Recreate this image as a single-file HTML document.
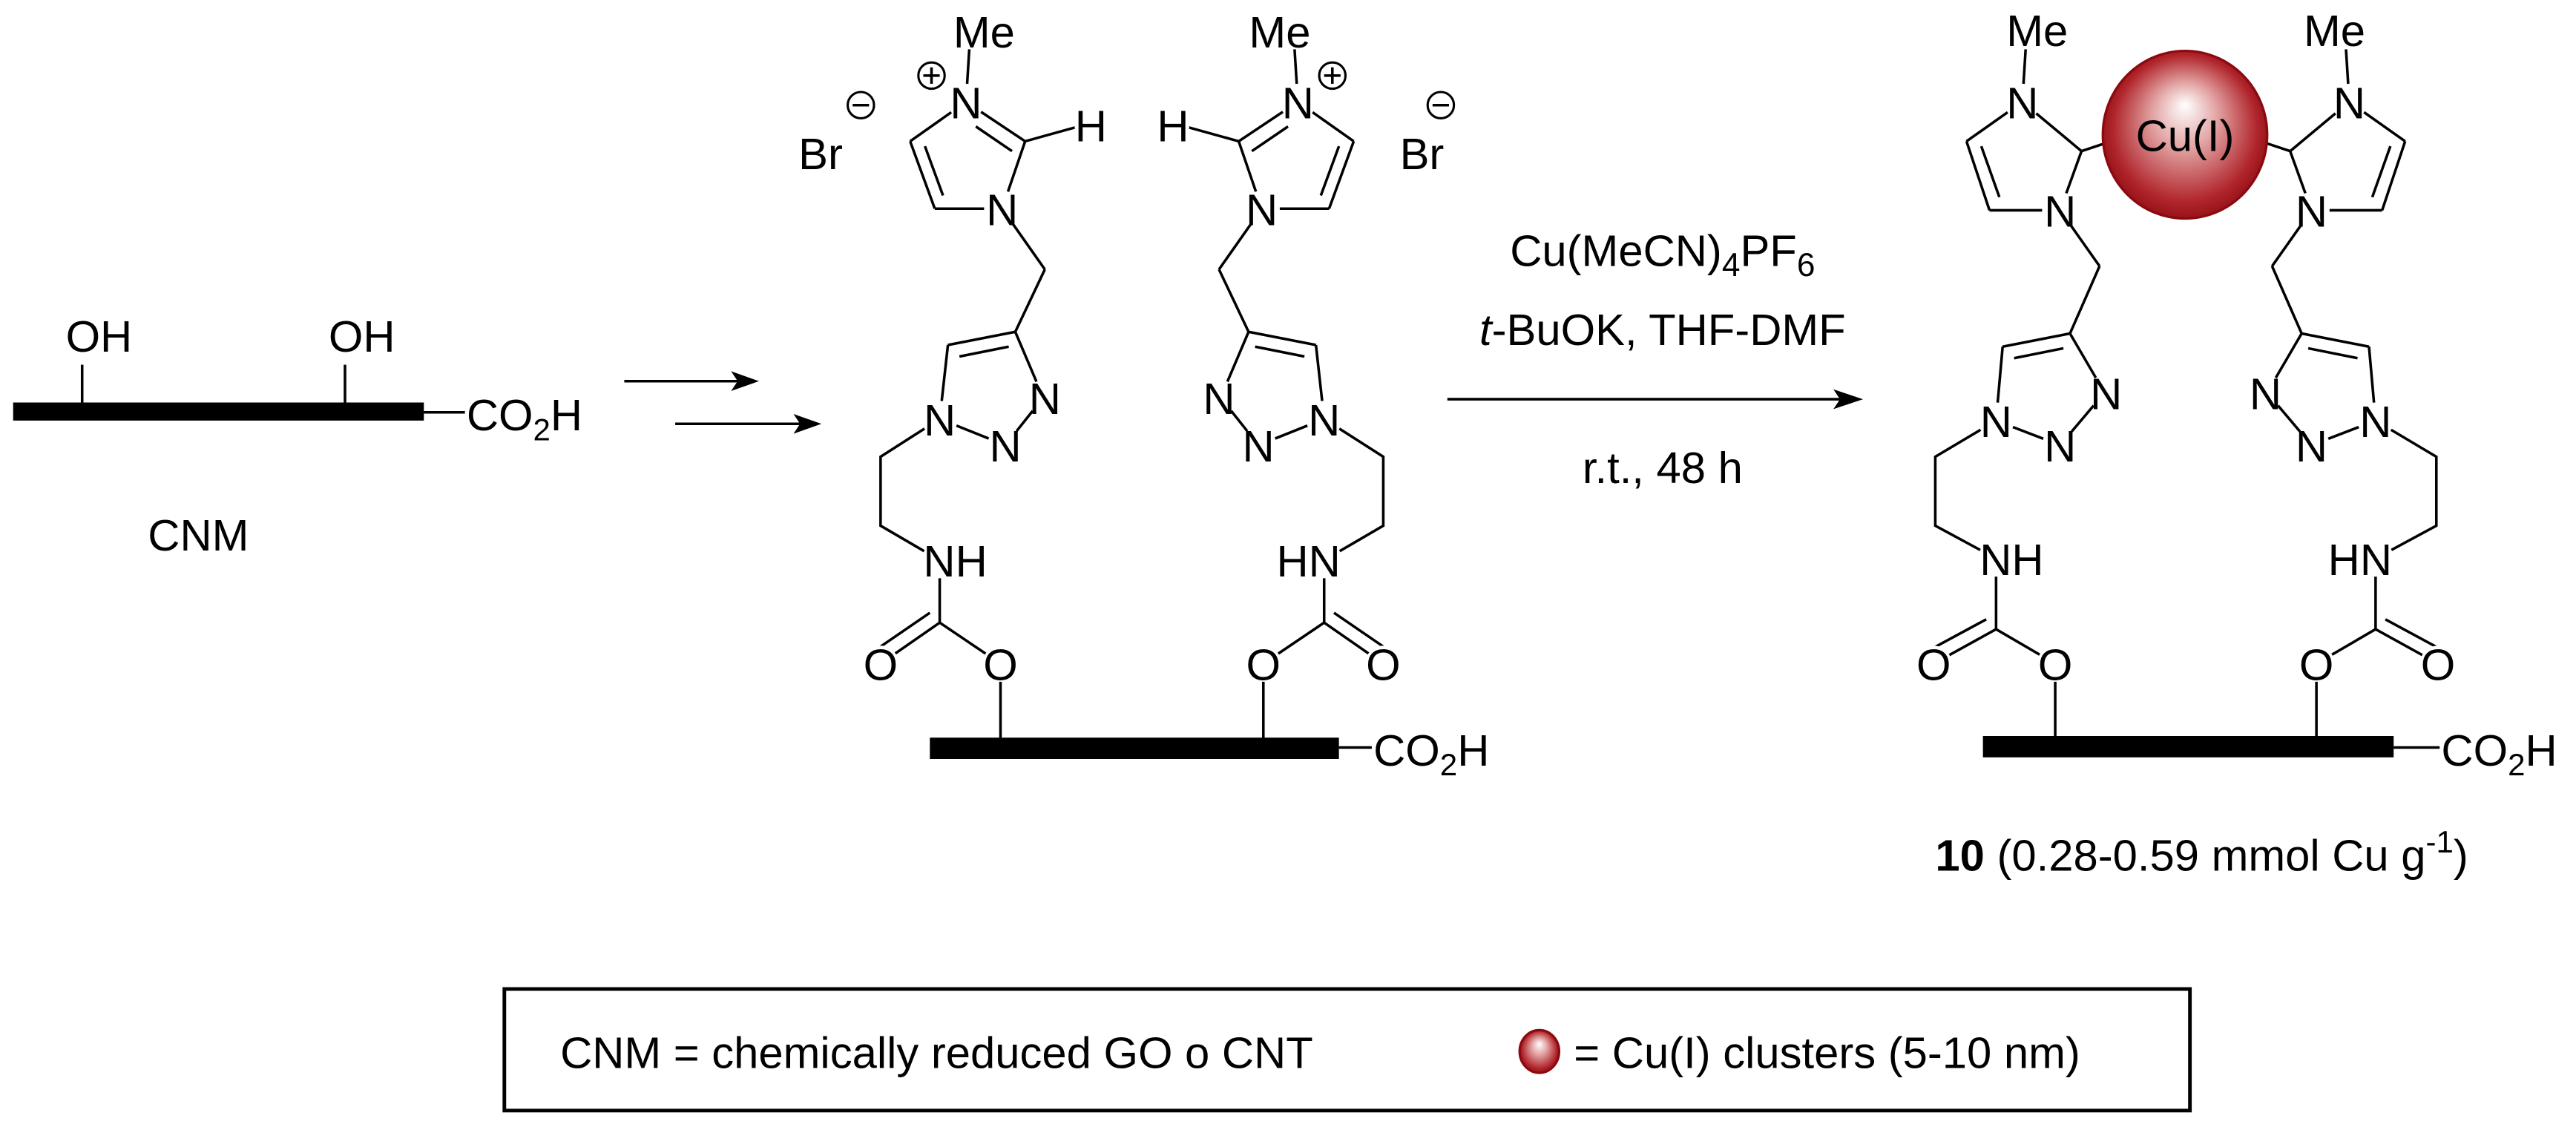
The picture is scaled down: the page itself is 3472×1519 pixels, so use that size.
<!DOCTYPE html>
<html><head><meta charset="utf-8"><style>
html,body{margin:0;padding:0;background:#fff;}
svg{display:block;}
text{font-family:"Liberation Sans",Arial,sans-serif;font-size:27px;fill:#000;}
line,polyline{stroke:#000;stroke-width:1.6;fill:none;}
.w circle{fill:#fff;stroke:none;}
</style></head><body>
<svg width="3472" height="1519" viewBox="0 0 1568 686" xmlns="http://www.w3.org/2000/svg">
<defs>
<radialGradient id="cu" cx="50%" cy="50%" r="55%" fx="50%" fy="32%">
<stop offset="0" stop-color="#ffffff"/>
<stop offset="0.35" stop-color="#e3a5a5"/>
<stop offset="0.8" stop-color="#b0252b"/>
<stop offset="1" stop-color="#8a0a10"/>
</radialGradient>
<g id="pend">
<line x1="588" y1="62" x2="590" y2="30"/>
<line x1="588" y1="62" x2="624" y2="86"/>
<line x1="594" y1="77" x2="616" y2="92"/>
<line x1="624" y1="86" x2="610" y2="127"/>
<line x1="610" y1="127" x2="569" y2="127"/>
<line x1="569" y1="127" x2="554" y2="86"/>
<line x1="574" y1="119" x2="563" y2="89"/>
<line x1="554" y1="86" x2="588" y2="62"/>
<line x1="624" y1="86" x2="660" y2="76"/>
<line x1="610" y1="127" x2="636" y2="164"/>
<line x1="636" y1="164" x2="618" y2="202"/>
<line x1="618" y1="202" x2="577" y2="210"/>
<line x1="614" y1="211" x2="584" y2="217"/>
<line x1="577" y1="210" x2="572" y2="255"/>
<line x1="572" y1="255" x2="612" y2="271"/>
<line x1="612" y1="271" x2="635" y2="242"/>
<line x1="635" y1="242" x2="618" y2="202"/>
<polyline points="572,255 536,278 536,320 572,341"/>
<line x1="572" y1="341" x2="572" y2="379"/>
<line x1="572" y1="379" x2="536" y2="404"/>
<line x1="566" y1="373" x2="531" y2="397"/>
<line x1="572" y1="379" x2="609" y2="404"/>
<line x1="609" y1="404" x2="609" y2="450"/>
</g>
<g id="prod">
<line x1="1231" y1="62" x2="1233" y2="30"/>
<line x1="1231" y1="62" x2="1267" y2="92"/>
<line x1="1267" y1="92" x2="1254" y2="128"/>
<line x1="1254" y1="128" x2="1211" y2="128"/>
<line x1="1211" y1="128" x2="1197" y2="86"/>
<line x1="1217" y1="120" x2="1206" y2="89"/>
<line x1="1197" y1="86" x2="1231" y2="62"/>
<line x1="1267" y1="92" x2="1285" y2="86"/>
<line x1="1254" y1="128" x2="1278" y2="162"/>
<line x1="1278" y1="162" x2="1260" y2="203"/>
<line x1="1260" y1="203" x2="1219" y2="211"/>
<line x1="1256" y1="212" x2="1226" y2="218"/>
<line x1="1219" y1="211" x2="1215" y2="256"/>
<line x1="1215" y1="256" x2="1254" y2="271"/>
<line x1="1254" y1="271" x2="1281" y2="239"/>
<line x1="1281" y1="239" x2="1260" y2="203"/>
<polyline points="1215,256 1178,278 1178,320 1215,340"/>
<line x1="1215" y1="340" x2="1215" y2="383"/>
<line x1="1215" y1="383" x2="1177" y2="404"/>
<line x1="1209" y1="377" x2="1172" y2="397"/>
<line x1="1215" y1="383" x2="1251" y2="404"/>
<line x1="1251" y1="404" x2="1251" y2="449"/>
</g>
</defs>

<!-- left CNM -->
<rect x="8" y="245" width="250" height="11" fill="#000"/>
<line x1="50" y1="222" x2="50" y2="246"/>
<line x1="210" y1="222" x2="210" y2="246"/>
<line x1="258" y1="251" x2="283" y2="251"/>
<text x="40" y="214">OH</text>
<text x="200" y="214">OH</text>
<text x="284" y="262">CO<tspan font-size="19" dy="6">2</tspan><tspan dy="-6">H</tspan></text>
<text x="90" y="335">CNM</text>

<line x1="380" y1="232" x2="450" y2="232" stroke-width="2"/>
<polygon points="462,232 445,226 449,232 445,238" fill="#000"/>
<line x1="411" y1="258" x2="488" y2="258" stroke-width="2"/>
<polygon points="500,258 483,252 487,258 483,264" fill="#000"/>

<!-- middle structure -->
<use href="#pend"/>
<use href="#pend" transform="translate(1378,0) scale(-1,1)"/>
<rect x="566" y="449" width="249" height="13" fill="#000"/>
<line x1="815" y1="455" x2="835" y2="455"/>
<text x="836" y="466">CO<tspan font-size="19" dy="6">2</tspan><tspan dy="-6">H</tspan></text>
<g class="w">
<circle cx="599" cy="19" r="13"/>
<circle cx="588" cy="62" r="11"/><circle cx="664" cy="76" r="10"/><circle cx="610" cy="127" r="11"/>
<circle cx="572" cy="255" r="11"/><circle cx="612" cy="271" r="11"/><circle cx="636" cy="242" r="11"/>
<circle cx="572" cy="341" r="11"/><circle cx="536" cy="404" r="11"/><circle cx="609" cy="404" r="11"/>
<circle cx="779" cy="19" r="13"/>
<circle cx="790" cy="62" r="11"/><circle cx="714" cy="76" r="10"/><circle cx="768" cy="127" r="11"/>
<circle cx="806" cy="255" r="11"/><circle cx="766" cy="271" r="11"/><circle cx="742" cy="242" r="11"/>
<circle cx="806" cy="341" r="11"/><circle cx="842" cy="404" r="11"/><circle cx="769" cy="404" r="11"/>
</g>
<g>
<text x="599" y="29" text-anchor="middle">Me</text>
<text x="588" y="72" text-anchor="middle">N</text>
<text x="664" y="86" text-anchor="middle">H</text>
<text x="610" y="137" text-anchor="middle">N</text>
<text x="572" y="265" text-anchor="middle">N</text>
<text x="612" y="281" text-anchor="middle">N</text>
<text x="636" y="252" text-anchor="middle">N</text>
<text x="562" y="351">NH</text>
<text x="536" y="414" text-anchor="middle">O</text>
<text x="609" y="414" text-anchor="middle">O</text>
<text x="779" y="29" text-anchor="middle">Me</text>
<text x="790" y="72" text-anchor="middle">N</text>
<text x="714" y="86" text-anchor="middle">H</text>
<text x="768" y="137" text-anchor="middle">N</text>
<text x="806" y="265" text-anchor="middle">N</text>
<text x="766" y="281" text-anchor="middle">N</text>
<text x="742" y="252" text-anchor="middle">N</text>
<text x="816" y="351" text-anchor="end">HN</text>
<text x="842" y="414" text-anchor="middle">O</text>
<text x="769" y="414" text-anchor="middle">O</text>
</g>
<text x="486" y="103">Br</text>
<text x="852" y="103">Br</text>
<g fill="none" stroke="#000" stroke-width="1.4">
<circle cx="567" cy="46" r="8"/><line x1="562" y1="46" x2="572" y2="46"/><line x1="567" y1="41" x2="567" y2="51"/>
<circle cx="811" cy="46" r="8"/><line x1="806" y1="46" x2="816" y2="46"/><line x1="811" y1="41" x2="811" y2="51"/>
<circle cx="524" cy="64" r="8"/><line x1="519" y1="64" x2="529" y2="64"/>
<circle cx="877" cy="64" r="8"/><line x1="872" y1="64" x2="882" y2="64"/>
</g>

<!-- reagents -->
<text x="1012" y="162" text-anchor="middle" font-size="29">Cu(MeCN)<tspan font-size="20" dy="6">4</tspan><tspan dy="-6">PF</tspan><tspan font-size="20" dy="6">6</tspan></text>
<text x="1012" y="210" text-anchor="middle" font-size="29"><tspan font-style="italic">t</tspan>-BuOK, THF-DMF</text>
<line x1="881" y1="243" x2="1122" y2="243" stroke-width="2"/>
<polygon points="1134,243 1116,237 1120,243 1116,249" fill="#000"/>
<text x="1012" y="294" text-anchor="middle" font-size="29">r.t., 48 h</text>

<!-- product -->
<use href="#prod"/>
<use href="#prod" transform="translate(2661,0) scale(-1,1)"/>
<rect x="1207" y="448" width="250" height="13" fill="#000"/>
<line x1="1457" y1="455" x2="1485" y2="455"/>
<text x="1486" y="466">CO<tspan font-size="19" dy="6">2</tspan><tspan dy="-6">H</tspan></text>
<ellipse cx="1330" cy="82" rx="50" ry="51" fill="url(#cu)" stroke="#8a0a10" stroke-width="1.5"/>
<text x="1330" y="92" text-anchor="middle">Cu(I)</text>
<g class="w">
<circle cx="1240" cy="18" r="13"/>
<circle cx="1231" cy="62" r="11"/><circle cx="1254" cy="128" r="11"/>
<circle cx="1215" cy="256" r="11"/><circle cx="1254" cy="271" r="11"/><circle cx="1282" cy="239" r="11"/>
<circle cx="1215" cy="340" r="11"/><circle cx="1177" cy="404" r="11"/><circle cx="1251" cy="404" r="11"/>
<circle cx="1421" cy="18" r="13"/>
<circle cx="1430" cy="62" r="11"/><circle cx="1407" cy="128" r="11"/>
<circle cx="1446" cy="256" r="11"/><circle cx="1407" cy="271" r="11"/><circle cx="1379" cy="239" r="11"/>
<circle cx="1446" cy="340" r="11"/><circle cx="1484" cy="404" r="11"/><circle cx="1410" cy="404" r="11"/>
</g>
<g>
<text x="1240" y="28" text-anchor="middle">Me</text>
<text x="1231" y="72" text-anchor="middle">N</text>
<text x="1254" y="138" text-anchor="middle">N</text>
<text x="1215" y="266" text-anchor="middle">N</text>
<text x="1254" y="281" text-anchor="middle">N</text>
<text x="1282" y="249" text-anchor="middle">N</text>
<text x="1205" y="350">NH</text>
<text x="1177" y="414" text-anchor="middle">O</text>
<text x="1251" y="414" text-anchor="middle">O</text>
<text x="1421" y="28" text-anchor="middle">Me</text>
<text x="1430" y="72" text-anchor="middle">N</text>
<text x="1407" y="138" text-anchor="middle">N</text>
<text x="1446" y="266" text-anchor="middle">N</text>
<text x="1407" y="281" text-anchor="middle">N</text>
<text x="1379" y="249" text-anchor="middle">N</text>
<text x="1456" y="350" text-anchor="end">HN</text>
<text x="1484" y="414" text-anchor="middle">O</text>
<text x="1410" y="414" text-anchor="middle">O</text>
</g>
<text x="1178" y="530" font-size="29"><tspan font-weight="bold">10</tspan> (0.28-0.59 mmol Cu g<tspan font-size="19" dy="-11">-1</tspan><tspan dy="11">)</tspan></text>

<!-- legend box -->
<rect x="307" y="602" width="1026" height="74" fill="none" stroke="#000" stroke-width="2.2"/>
<text x="341" y="650" font-size="28">CNM = chemically reduced GO o CNT</text>
<ellipse cx="937" cy="640" rx="12" ry="13" fill="url(#cu)" stroke="#8a0a10" stroke-width="1.5"/>
<text x="958" y="650" font-size="28">= Cu(I) clusters (5-10 nm)</text>
</svg>
</body></html>
